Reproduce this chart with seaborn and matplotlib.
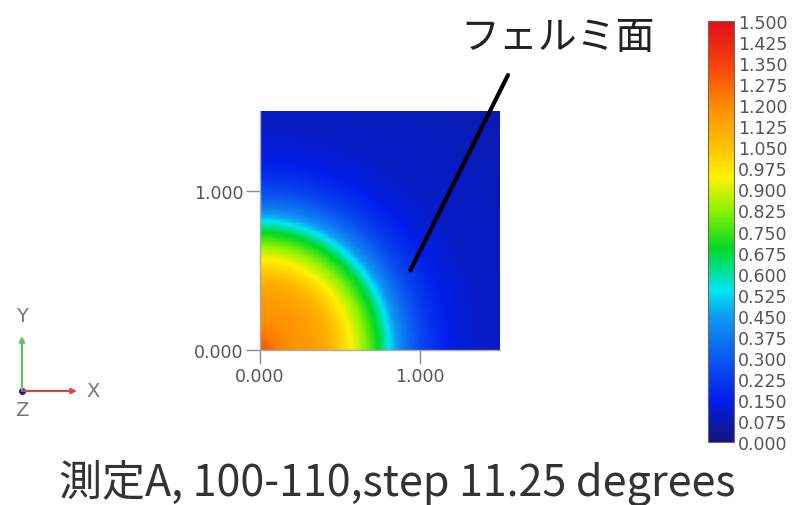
import numpy as np
import pandas as pd
import matplotlib
matplotlib.use("Agg")
import matplotlib.pyplot as plt
from matplotlib.colors import LinearSegmentedColormap
import seaborn as sns

# ---- data ----
# radial profile of the field (distance from origin -> value)
radius = [0.0, 0.1, 0.2, 0.3, 0.4, 0.45, 0.5, 0.55, 0.6, 0.65, 0.7, 0.75, 0.8, 0.85, 0.9, 1.0, 1.1, 1.2, 1.4, 2.2]
value = [1.32, 1.23, 1.19, 1.16, 1.12, 1.08, 1.03, 0.97, 0.90, 0.83, 0.75, 0.67, 0.56, 0.45, 0.37, 0.26, 0.19, 0.14, 0.10, 0.07]
extent = 1.5
axis_ticks = [0.0, 1.0]
axis_ticklabels = ["0.000", "1.000"]
cbar_ticks = [0.0, 0.075, 0.15, 0.225, 0.3, 0.375, 0.45, 0.525, 0.6, 0.675, 0.75,
              0.825, 0.9, 0.975, 1.05, 1.125, 1.2, 1.275, 1.35, 1.425, 1.5]
cbar_ticklabels = ["0.000", "0.075", "0.150", "0.225", "0.300", "0.375", "0.450",
                   "0.525", "0.600", "0.675", "0.750", "0.825", "0.900", "0.975",
                   "1.050", "1.125", "1.200", "1.275", "1.350", "1.425", "1.500"]
fermi_point = (0.94, 0.50)
annotation_text = "フェルミ面"
title_text = "測定A, 100-110,step 11.25 degrees"

# colour map stops (fraction, colour)
cmap_stops = [
    (0.00, (0.08, 0.08, 0.50)),
    (0.10, (0.00, 0.12, 0.92)),
    (0.22, (0.05, 0.40, 0.95)),
    (0.30, (0.05, 0.62, 0.95)),
    (0.36, (0.00, 0.90, 0.95)),
    (0.46, (0.00, 0.85, 0.15)),
    (0.55, (0.55, 0.95, 0.00)),
    (0.63, (1.00, 0.95, 0.00)),
    (0.72, (1.00, 0.72, 0.00)),
    (0.80, (1.00, 0.55, 0.00)),
    (0.90, (0.97, 0.25, 0.05)),
    (1.00, (0.88, 0.06, 0.10)),
]
cmap = LinearSegmentedColormap.from_list("ref", cmap_stops)

# ---- build field grid from the radial profile ----
N = 300
centers = (np.arange(N) + 0.5) * extent / N
X, Y = np.meshgrid(centers, centers)
R = np.hypot(X, Y)
field = np.interp(R, radius, value)
df = pd.DataFrame(field)

sns.set_style("white")
plt.rcParams['font.family'] = ['DejaVu Sans', 'Noto Sans CJK JP']

W, H = 795, 506
fig = plt.figure(figsize=(W / 100, H / 100), dpi=100)
ax = fig.add_axes([260 / W, 1 - 351 / H, 240 / W, 239 / H])
cax = fig.add_axes([708 / W, 1 - 443 / H, 26 / W, 421 / H])

sns.heatmap(df, ax=ax, cmap=cmap, vmin=0, vmax=1.5, cbar_ax=cax,
            cbar_kws={"ticks": cbar_ticks}, xticklabels=False, yticklabels=False,
            rasterized=True)
ax.invert_yaxis()

grey = "#555555"
scale = N / extent
ax.set_xticks([t * scale for t in axis_ticks])
ax.set_xticklabels(axis_ticklabels)
ax.set_yticks([t * scale for t in axis_ticks])
ax.set_yticklabels(axis_ticklabels)
ax.tick_params(axis="both", which="both", length=10, width=1, color="#888888",
               labelcolor=grey, labelsize=12.5, bottom=True, left=True, pad=2)
for s in ["left", "bottom"]:
    ax.spines[s].set_visible(True)
    ax.spines[s].set_color("#aaaaaa")
    ax.spines[s].set_linewidth(1)
for s in ["top", "right"]:
    ax.spines[s].set_visible(False)

cb = ax.collections[0].colorbar
cb.outline.set_visible(True)
cb.outline.set_edgecolor("#6b6b55")
cb.outline.set_linewidth(0.8)
cax.set_yticks(cbar_ticks)
cax.set_yticklabels(cbar_ticklabels)
cax.tick_params(length=0, pad=3, labelsize=12.5, labelcolor=grey)

# annotation line
ax.annotate("", xy=(fermi_point[0] * scale, fermi_point[1] * scale), xycoords="data",
            xytext=(508 / W, 1 - 76 / H), textcoords="figure fraction",
            arrowprops=dict(arrowstyle="-", lw=3, color="black", shrinkA=0, shrinkB=0),
            annotation_clip=False)
fig.text(558 / W, 1 - 38 / H, annotation_text, ha="center", va="center", fontsize=28,
         family=["Noto Sans CJK JP", "DejaVu Sans"], color="#222222")

fig.text(397 / W, 1 - 483 / H, title_text, ha="center", va="center", fontsize=31,
         family=["Noto Sans CJK JP", "DejaVu Sans"], color="#333333")

# orientation triad
ov = fig.add_axes([0, 0, 1, 1], facecolor="none")
ov.set_xlim(0, W)
ov.set_ylim(H, 0)
ov.axis("off")
ov.annotate("", xy=(22, 337), xytext=(22, 392),
            arrowprops=dict(arrowstyle="-|>", color="#55cc55", lw=1.5, mutation_scale=8,
                            shrinkA=0, shrinkB=0))
ov.annotate("", xy=(77, 392), xytext=(22, 392),
            arrowprops=dict(arrowstyle="-|>", color="#d04848", lw=1.5, mutation_scale=8,
                            shrinkA=0, shrinkB=0))
ov.plot([22], [392], "o", color="#1a1a90", ms=4)
ov.text(22, 316, "Y", ha="center", va="center", fontsize=14, color="#777777")
ov.text(93, 392, "X", ha="center", va="center", fontsize=14, color="#777777")
ov.text(22, 411, "Z", ha="center", va="center", fontsize=14, color="#777777")

fig.savefig("out.png", dpi=100)
